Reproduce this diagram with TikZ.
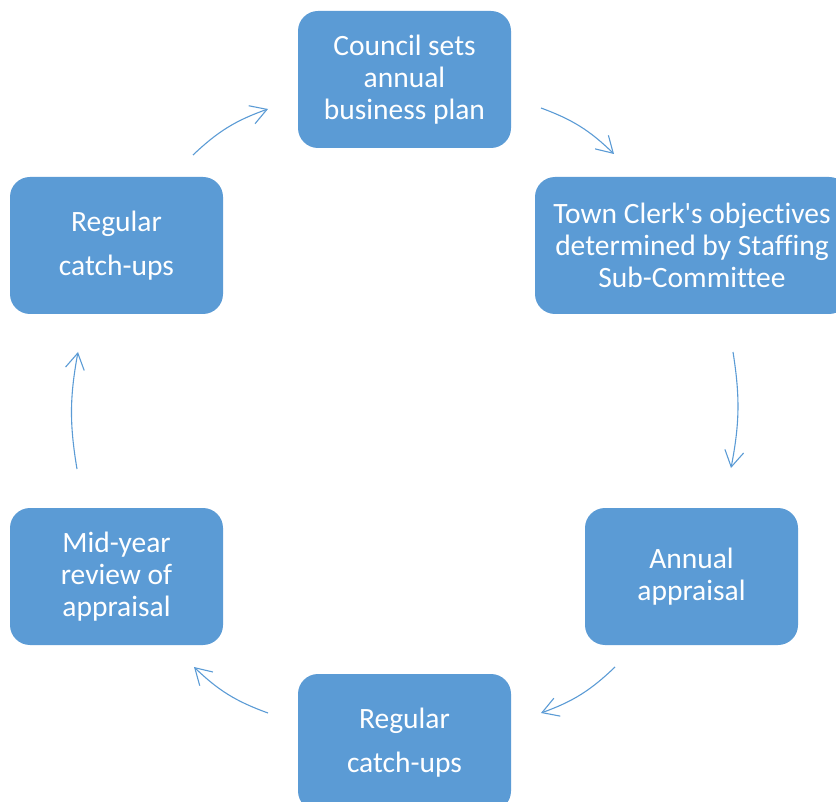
\documentclass[tikz,border=0pt]{standalone}
\usepackage{fontspec}
\setmainfont{Carlito}[Ligatures={TeXOff,NoCommon}]
\usetikzlibrary{arrows.meta}
\definecolor{boxblue}{RGB}{91,155,213}
\begin{document}
\begin{tikzpicture}[x=1pt,y=-1pt,
  stage/.style={rectangle, rounded corners=20pt, fill=boxblue, draw=none,
    minimum width=213pt, minimum height=137pt, text=white, align=center,
    font=\fontsize{29.5}{32}\selectfont, inner sep=0pt},
  cyc/.style={draw=boxblue, line width=1.1pt,
    -{Straight Barb[length=16pt,width=19pt,line width=1.1pt]}}]
\useasboundingbox (0,0) rectangle (836,802);
\node[stage] (plan) at (404.5,79.5) {Council sets\\annual\\business plan};
\node[stage, minimum width=314pt] (obj) at (692,245.5) {Town Clerk's objectives\\determined by Staffing\\Sub-Committee};
\node[stage] (appr) at (691.5,576.5) {Annual\\appraisal};
\node[stage] (catchb) at (404.5,742.5) {Regular\\[12pt]catch-ups};
\node[stage] (mid) at (116.5,576.5) {Mid-year\\review of\\appraisal};
\node[stage] (catcht) at (116.5,245.5) {Regular\\[12pt]catch-ups};
\coordinate (a1s) at (541,108); \coordinate (a1e) at (614,154);
\coordinate (a2s) at (733,352); \coordinate (a2e) at (731,468);
\coordinate (a3s) at (615,667); \coordinate (a3e) at (541,713);
\coordinate (a4s) at (268,713); \coordinate (a4e) at (194,667);
\coordinate (a5s) at (77,469);  \coordinate (a5e) at (78,352);
\coordinate (a6s) at (193,155); \coordinate (a6e) at (268,109);
\draw[cyc] (a1s) to[bend left=12] (a1e);
\draw[cyc] (a2s) to[bend left=10] (a2e);
\draw[cyc] (a3s) to[bend left=12] (a3e);
\draw[cyc] (a4s) to[bend left=12] (a4e);
\draw[cyc] (a5s) to[bend left=10] (a5e);
\draw[cyc] (a6s) to[bend left=12] (a6e);
\end{tikzpicture}
\end{document}
